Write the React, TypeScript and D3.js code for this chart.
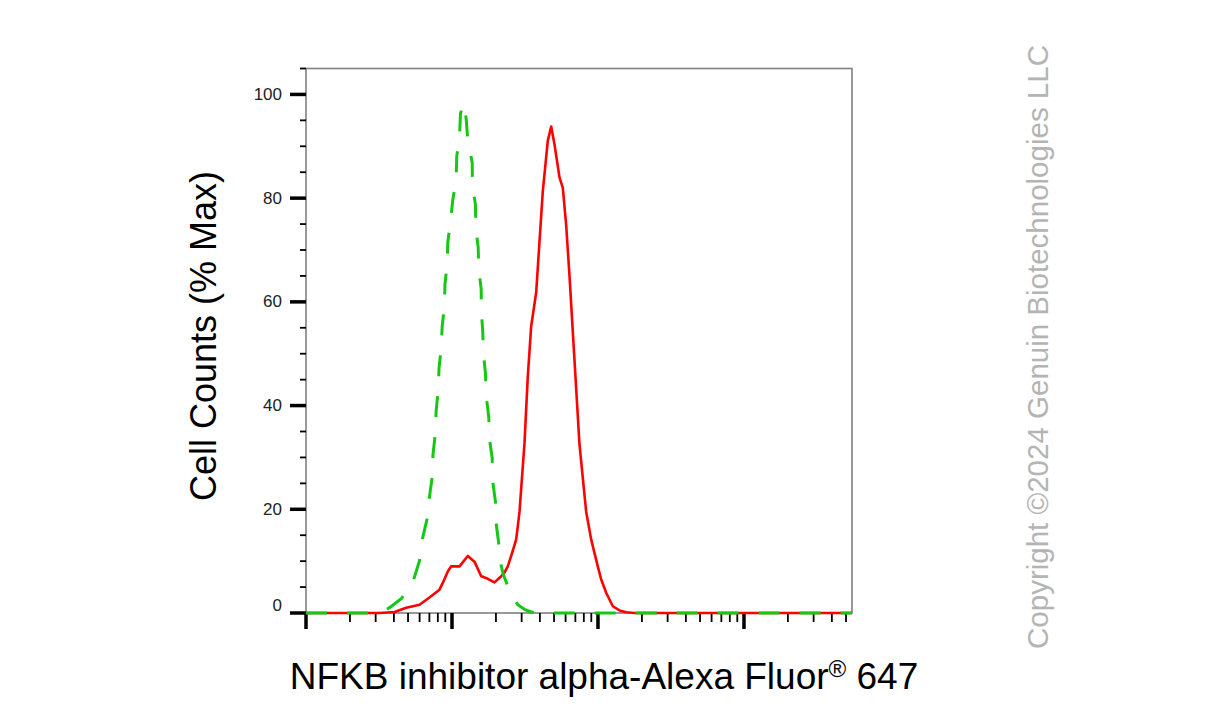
import React from "react";
import * as d3 from "d3";

// Fluorescence intensity (arbitrary log units) and % Max
const redX = [1, 3.19, 4.04, 4.86, 5.99, 7.01, 8.21, 8.65, 9.36, 9.87, 11.26, 12.83, 14.26, 15.85, 16.25, 17.59, 19.55, 21.73, 22.88, 24.11, 26.09, 27.53, 29.0, 31.37, 33.04, 34.86, 37.73, 39.75, 41.88, 45.32, 47.8, 50.35, 54.5, 57.41, 60.55, 63.78, 69.02, 74.7, 83.02, 89.8, 94.6, 99.7, 105.1, 113.8, 126.3, 140.4, 156.0, 177.8, 5495];
const redY = [0, 0, 0.2, 1.0, 1.6, 3.0, 4.5, 5.8, 8.0, 9.0, 9.0, 11.0, 9.9, 7.1, 7.0, 6.6, 5.9, 7.1, 7.8, 9.0, 12.0, 14.2, 19.5, 32.7, 45.5, 55.3, 61.8, 71.6, 81.3, 91.1, 93.8, 90.4, 84.0, 82.0, 74.8, 65.1, 48.8, 32.5, 19.5, 14.2, 11.6, 9.0, 6.5, 3.9, 1.3, 0.5, 0.15, 0, 0];

const greenX = [1, 3.19, 3.4, 3.85, 4.51, 5.47, 5.99, 6.31, 6.76, 7.01, 7.32, 7.41, 7.67, 7.79, 8.04, 8.15, 8.43, 8.57, 8.88, 8.95, 9.27, 9.36, 9.76, 10.13, 10.68, 10.78, 11.26, 11.43, 11.99, 12.51, 12.83, 13.75, 13.81, 14.48, 14.55, 15.11, 15.26, 15.85, 15.9, 16.25, 16.43, 16.96, 17.15, 17.87, 18.07, 18.85, 19.03, 19.86, 20.08, 20.92, 21.73, 22.53, 24.11, 25.96, 28.22, 31.87, 36.73, 5495];
const greenY = [0, 0, 0.3, 1.3, 2.8, 6.5, 10.1, 14.6, 18.2, 22.4, 26.3, 30.5, 34.4, 39.0, 42.9, 47.2, 51.1, 55.3, 59.2, 63.4, 67.3, 71.5, 75.5, 79.7, 83.6, 88.1, 91.7, 96.3, 98.3, 95.3, 91.1, 86.9, 82.6, 78.7, 74.4, 70.5, 66.3, 62.4, 58.1, 54.2, 50.0, 46.1, 41.9, 37.7, 33.5, 29.9, 25.3, 21.4, 17.2, 13.3, 9.1, 7.3, 5.2, 3.2, 1.6, 0.6, 0, 0];

const xDomain = [1, 5495];
const yDomain = [0, 105];
const yMajorTicks = [0, 20, 40, 60, 80, 100];
const yTickLabels = ["0", "20", "40", "60", "80", "100"];
const yMinorStep = 5;

const xTitle = "NFKB inhibitor alpha-Alexa Fluor";
const xTitleSup = "®";
const xTitleEnd = " 647";
const yTitle = "Cell Counts (% Max)";
const copyright = "Copyright ©2024 Genuin Biotechnologies LLC";

const W = 1207;
const H = 714;
const L = 306;
const R = 852;
const T = 68.5;
const B = 613;

export default function App() {
  const x = d3.scaleLog().domain(xDomain).range([L, R]);
  const y = d3.scaleLinear().domain(yDomain).range([B, T]);
  const line = d3
    .line<[number, number]>()
    .x((d) => x(d[0]))
    .y((d) => y(d[1]));
  const red = redX.map((v, i) => [v, redY[i]] as [number, number]);
  const green = greenX.map((v, i) => [v, greenY[i]] as [number, number]);

  const xTicks = x.ticks();
  const isMajor = (v: number) => Math.abs(Math.log10(v) - Math.round(Math.log10(v))) < 1e-9;
  const yMinor = d3.range(yDomain[0], yDomain[1] + 0.1, yMinorStep).filter((v) => !yMajorTicks.includes(v));

  const font = "Arial, 'Liberation Sans', Helvetica, sans-serif";

  return (
    <svg width={W} height={H} style={{ position: "absolute", left: 0, top: 0, background: "#fff" }}>
      <defs>
        <clipPath id="plot">
          <rect x={L} y={T - 2} width={R - L} height={B - T + 4} />
        </clipPath>
      </defs>
      <rect x={0} y={0} width={W} height={H} fill="#fff" />
      {/* frame */}
      <rect x={L} y={T} width={R - L} height={B - T} fill="none" stroke="#808080" strokeWidth={1.6} />
      {/* y ticks */}
      {yMinor.map((v) => (
        <line key={"ym" + v} x1={L - 6} x2={L} y1={y(v)} y2={y(v)} stroke="#000" strokeWidth={1.8} />
      ))}
      {yMajorTicks.map((v, i) => (
        <g key={"yM" + v}>
          <line x1={L - 16} x2={L} y1={y(v)} y2={y(v)} stroke="#000" strokeWidth={3.5} />
          <text
            x={282}
            y={y(v) + (v === 0 ? -8 : 0)}
            textAnchor="end"
            dominantBaseline="central"
            fontFamily={font}
            fontSize={17}
            fill="#222"
          >
            {yTickLabels[i]}
          </text>
        </g>
      ))}
      {/* x ticks */}
      {xTicks.map((v) =>
        isMajor(v) ? (
          <line key={"x" + v} x1={x(v)} x2={x(v)} y1={B} y2={B + 16} stroke="#000" strokeWidth={3.5} />
        ) : (
          <line key={"x" + v} x1={x(v)} x2={x(v)} y1={B} y2={B + 9} stroke="#000" strokeWidth={1.8} />
        )
      )}
      {/* curves */}
      <g clipPath="url(#plot)">
        <path d={line(red) || ""} fill="none" stroke="#ff0000" strokeWidth={2.6} strokeLinejoin="round" />
        <path
          d={line(green) || ""}
          fill="none"
          stroke="#14c814"
          strokeWidth={3}
          strokeDasharray="21 20"
        />
      </g>
      {/* titles */}
      <text
        transform={`translate(216,336) rotate(-90)`}
        textAnchor="middle"
        fontFamily={font}
        fontSize={36}
        fill="#000"
      >
        {yTitle}
      </text>
      <text x={604} y={689} textAnchor="middle" fontFamily={font} fontSize={37} fill="#000">
        {xTitle}
        <tspan fontSize={24} dy={-12}>{xTitleSup}</tspan>
        <tspan dy={12}>{xTitleEnd}</tspan>
      </text>
      <text
        transform={`translate(1048,347) rotate(-90)`}
        textAnchor="middle"
        fontFamily={font}
        fontSize={29.5}
        fill="#b4b4b4"
      >
        {copyright}
      </text>
    </svg>
  );
}
